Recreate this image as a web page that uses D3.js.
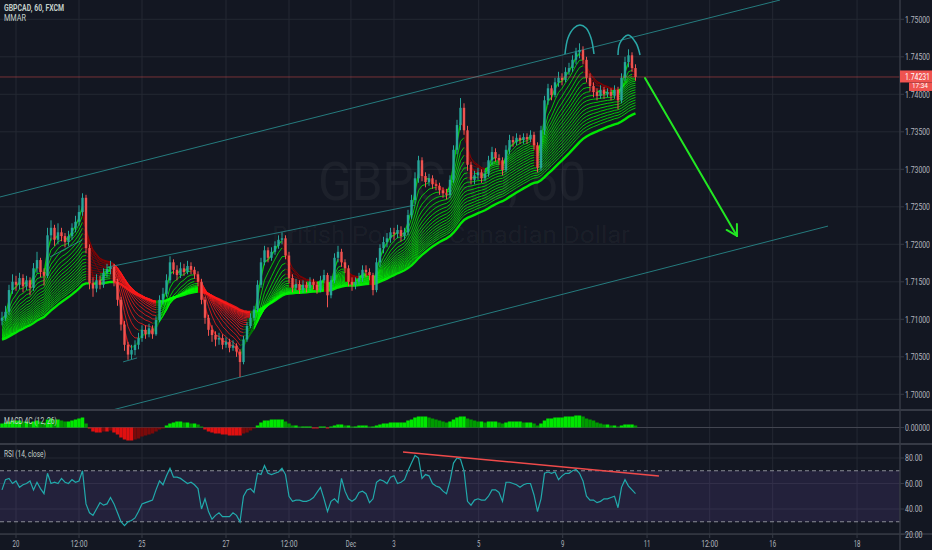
<!DOCTYPE html>
<html><head><meta charset="utf-8">
<script src="https://cdn.jsdelivr.net/npm/d3@7"></script>
<style>body{margin:0;background:#131722;}svg{display:block;font-family:Roboto,"Liberation Sans",sans-serif;}</style>
</head><body><svg id="c" width="932" height="550"></svg>
<script>
// ---------- DATA ----------
const symbolTitle = "GBPCAD, 60, FXCM";
const indicatorTitle = "MMAR";
const macdTitle = "MACD 4C (12, 26)";
const rsiTitle = "RSI (14, close)";
const watermark1 = "GBPCAD, 60";
const watermark2 = "British Pound / Canadian Dollar";
const countdown = "17:34";

// bars before the visible window (only used to warm up the ribbon)
const historyCloses = [1.7052,1.7048,1.7055,1.7060,1.7057,1.7063,1.7068,1.7062,1.7058,1.7065,1.7070,1.7074,1.7069,1.7072,1.7078,1.7082,1.7076,1.7080,1.7085,1.7079,1.7083,1.7088,1.7092,1.7086,1.7090,1.7095,1.7091,1.7094,1.7100,1.7098];

const closes = [1.7102,1.7110,1.7139,1.7150,1.7146,1.7155,1.7144,1.7152,1.7142,1.7168,
1.7179,1.7163,1.7158,1.7212,1.7222,1.7206,1.7216,1.7211,1.7203,1.7211,
1.7222,1.7230,1.7243,1.7262,1.7195,1.7148,1.7141,1.7152,1.7146,1.7162,
1.7167,1.7170,1.7150,1.7126,1.7093,1.7066,1.7053,1.7059,1.7066,1.7075,
1.7086,1.7080,1.7088,1.7080,1.7099,1.7126,1.7134,1.7152,1.7176,1.7166,
1.7159,1.7168,1.7163,1.7171,1.7166,1.7160,1.7150,1.7126,1.7102,1.7086,
1.7079,1.7073,1.7075,1.7066,1.7070,1.7062,1.7065,1.7057,1.7043,1.7073,
1.7091,1.7102,1.7113,1.7146,1.7176,1.7192,1.7182,1.7190,1.7198,1.7206,
1.7208,1.7185,1.7155,1.7142,1.7147,1.7139,1.7146,1.7142,1.7150,1.7146,
1.7139,1.7152,1.7159,1.7132,1.7152,1.7182,1.7190,1.7176,1.7168,1.7150,
1.7146,1.7150,1.7155,1.7166,1.7163,1.7159,1.7139,1.7176,1.7195,1.7203,
1.7208,1.7216,1.7214,1.7219,1.7211,1.7216,1.7239,1.7259,1.7288,1.7312,
1.7291,1.7283,1.7288,1.7280,1.7278,1.7272,1.7268,1.7266,1.7286,1.7326,
1.7359,1.7382,1.7352,1.7306,1.7286,1.7292,1.7296,1.7288,1.7294,1.7312,
1.7323,1.7315,1.7312,1.7299,1.7326,1.7339,1.7336,1.7342,1.7339,1.7343,
1.7340,1.7346,1.7332,1.7302,1.7352,1.7392,1.7408,1.7399,1.7416,1.7422,
1.7419,1.7430,1.7435,1.7446,1.7456,1.7459,1.7446,1.7422,1.7411,1.7403,
1.7398,1.7406,1.7400,1.7403,1.7398,1.7406,1.7392,1.7422,1.7443,1.7452,
1.7435,1.74231];

const highs = [1.7110,1.7118,1.7146,1.7160,1.7158,1.7162,1.7160,1.7158,1.7156,1.7175,
1.7190,1.7182,1.7168,1.7222,1.7232,1.7226,1.7228,1.7222,1.7215,1.7218,
1.7228,1.7238,1.7252,1.7268,1.7266,1.7200,1.7156,1.7160,1.7158,1.7168,
1.7174,1.7178,1.7174,1.7154,1.7130,1.7098,1.7070,1.7066,1.7072,1.7082,
1.7092,1.7092,1.7094,1.7092,1.7104,1.7132,1.7142,1.7160,1.7184,1.7180,
1.7172,1.7176,1.7174,1.7178,1.7176,1.7170,1.7164,1.7154,1.7130,1.7106,
1.7092,1.7084,1.7082,1.7080,1.7076,1.7074,1.7072,1.7068,1.7060,1.7078,
1.7096,1.7108,1.7118,1.7152,1.7182,1.7198,1.7196,1.7196,1.7204,1.7212,
1.7216,1.7212,1.7190,1.7160,1.7154,1.7152,1.7152,1.7150,1.7156,1.7154,
1.7150,1.7158,1.7166,1.7162,1.7158,1.7188,1.7198,1.7194,1.7180,1.7172,
1.7156,1.7156,1.7162,1.7172,1.7172,1.7168,1.7162,1.7182,1.7200,1.7210,
1.7215,1.7222,1.7222,1.7226,1.7224,1.7222,1.7246,1.7266,1.7296,1.7318,
1.7316,1.7296,1.7294,1.7292,1.7286,1.7282,1.7276,1.7274,1.7292,1.7332,
1.7366,1.7395,1.7388,1.7358,1.7310,1.7298,1.7302,1.7300,1.7300,1.7318,
1.7330,1.7328,1.7320,1.7316,1.7332,1.7346,1.7344,1.7348,1.7346,1.7348,
1.7348,1.7352,1.7350,1.7336,1.7358,1.7398,1.7414,1.7412,1.7422,1.7430,
1.7428,1.7436,1.7442,1.7452,1.7462,1.7468,1.7464,1.7450,1.7428,1.7416,
1.7408,1.7412,1.7410,1.7408,1.7408,1.7412,1.7410,1.7428,1.7450,1.7460,
1.7456,1.7440];

const lows = [1.7092,1.7098,1.7106,1.7134,1.7138,1.7140,1.7136,1.7139,1.7132,1.7138,
1.7162,1.7156,1.7145,1.7155,1.7205,1.7198,1.7200,1.7204,1.7196,1.7198,
1.7206,1.7216,1.7225,1.7238,1.7188,1.7140,1.7130,1.7136,1.7140,1.7142,
1.7156,1.7160,1.7144,1.7118,1.7085,1.7058,1.7046,1.7047,1.7052,1.7060,
1.7070,1.7074,1.7076,1.7074,1.7078,1.7096,1.7120,1.7130,1.7148,1.7160,
1.7152,1.7155,1.7158,1.7160,1.7160,1.7154,1.7144,1.7120,1.7094,1.7078,
1.7070,1.7064,1.7066,1.7060,1.7062,1.7056,1.7058,1.7050,1.7023,1.7040,
1.7070,1.7088,1.7098,1.7110,1.7142,1.7172,1.7176,1.7178,1.7186,1.7194,
1.7200,1.7180,1.7148,1.7136,1.7138,1.7134,1.7135,1.7136,1.7138,1.7140,
1.7134,1.7136,1.7148,1.7116,1.7128,1.7148,1.7176,1.7170,1.7162,1.7144,
1.7138,1.7140,1.7146,1.7150,1.7156,1.7152,1.7132,1.7136,1.7170,1.7188,
1.7196,1.7202,1.7206,1.7208,1.7204,1.7206,1.7212,1.7234,1.7254,1.7282,
1.7284,1.7276,1.7278,1.7274,1.7272,1.7266,1.7262,1.7260,1.7262,1.7282,
1.7320,1.7352,1.7346,1.7298,1.7280,1.7280,1.7286,1.7282,1.7284,1.7290,
1.7306,1.7310,1.7306,1.7292,1.7296,1.7320,1.7330,1.7332,1.7334,1.7334,
1.7334,1.7336,1.7326,1.7296,1.7298,1.7346,1.7386,1.7392,1.7396,1.7410,
1.7412,1.7416,1.7426,1.7430,1.7440,1.7448,1.7440,1.7416,1.7404,1.7396,
1.7392,1.7394,1.7394,1.7396,1.7392,1.7394,1.7380,1.7388,1.7418,1.7436,
1.7430,1.7418];

// MACD 4C histogram values
const macdValues = [0.0004,0.0005,0.0006,0.0007,0.0007,0.0007,0.0006,0.0006,0.0005,0.0006,
0.0007,0.0006,0.0005,0.0008,0.0009,0.0008,0.0008,0.0007,0.0006,0.0006,
0.0007,0.0008,0.0009,0.0010,0.0004,-0.0001,-0.0004,-0.0005,-0.0005,-0.0004,
-0.0004,-0.0003,-0.0005,-0.0007,-0.0010,-0.0012,-0.0013,-0.0013,-0.0012,-0.0011,
-0.0009,-0.0008,-0.0007,-0.0006,-0.0004,-0.0002,-0.0001,0.0002,0.0004,0.0005,
0.0006,0.0006,0.0005,0.0005,0.0004,0.0004,0.0003,0.0001,-0.0002,-0.0004,
-0.0005,-0.0006,-0.0006,-0.0007,-0.0007,-0.0008,-0.0008,-0.0008,-0.0008,-0.0006,
-0.0005,-0.0003,-0.0001,0.0002,0.0005,0.0007,0.0007,0.0008,0.0008,0.0008,
0.0008,0.0006,0.0004,0.0002,0.0002,0.0001,0.0001,0.0001,0.0001,-0.0001,
-0.0001,0.0001,0.0001,-0.0001,0.0001,0.0002,0.0003,0.0003,0.0002,0.0002,
0.0001,0.0001,0.0002,0.0002,0.0002,0.0001,0.0001,0.0002,0.0003,0.0004,
0.0004,0.0005,0.0005,0.0005,0.0005,0.0005,0.0007,0.0008,0.0010,0.0011,
0.0011,0.0011,0.0010,0.0009,0.0008,0.0007,0.0006,0.0005,0.0006,0.0008,
0.0010,0.0011,0.0011,0.0009,0.0008,0.0007,0.0006,0.0006,0.0005,0.0006,
0.0006,0.0006,0.0005,0.0004,0.0005,0.0006,0.0006,0.0006,0.0006,0.0005,
0.0005,0.0005,0.0004,0.0002,0.0004,0.0007,0.0009,0.0009,0.0010,0.0010,
0.0010,0.0011,0.0011,0.0011,0.0012,0.0012,0.0011,0.0009,0.0008,0.0007,
0.0005,0.0004,0.0003,0.0003,0.0002,0.0002,0.0001,0.0002,0.0003,0.0003,
0.0003,0.0002];

const rsiValues = [55,63,64,60,62,57,59,60,62,55,
61,56,52,68,60,61,60,64,61,60,
63,61,62,70,44,37,35,40,45,43,
44,49,44,37,30,27,30,31,33,38,
44,45,46,47,55,62,59,66,72,65,
65,64,62,60,61,59,56,40,48,38,
32,35,37,34,34,34,37,35,30,50,
55,56,53,68,67,74,68,67,68,69,
72,67,50,46,47,47,46,46,47,49,
53,57,48,38,46,48,45,64,54,48,
46,48,53,54,52,45,48,61,63,62,
60,65,66,60,61,63,70,76,82,80,
64,67,66,60,58,57,54,52,62,76,
80,79,70,46,43,47,48,47,47,50,
55,55,53,46,61,61,60,59,57,59,
60,60,51,38,48,68,69,68,69,63,
66,68,68,70,71,68,62,50,47,47,
45,46,48,48,49,50,41,57,63,58,
55,52];

const priceTicks = [1.70,1.705,1.71,1.715,1.72,1.725,1.73,1.735,1.74,1.745,1.75];
const rsiTicks = [20,40,60,80];
const rsiBand = [30,70];
const timeTickIndex = [4,22,40,64,82,99.7,112,136.2,160.2,184.3,202.2,220.2,244.3];
const timeTickLabels = ["20","12:00","25","27","12:00","Dec","3","5","9","11","12:00","16","18"];

const ribbonPeriods = [5,10,15,20,25,30,35,40,45,50,55,60,65,70,75,80,85,90];
const refPeriod = 100;
const hoursPerBar = 2;

// drawings, anchored as [bar index, price]
const channelLines = [
  [[-0.57,1.72631],[222.3,1.75257]],
  [[30.3,1.71697],[118,1.72523]],
  [[23.7,1.69697],[236,1.72243]],
  [[34.6,1.70432],[38.6,1.70485]],
  [[13.7,1.71831],[22.9,1.72057]]
];
const arcs = [
  [[160.86,1.74537],[161.71,1.74751],[163.43,1.74884],[165.14,1.74924],[166.86,1.74884],[168.29,1.74751],[169.14,1.74537]],
  [[176.0,1.74524],[176.57,1.74684],[178.86,1.74791],[181.14,1.74684],[182.29,1.74524]]
];
const arrowLine = [[183.71,1.74217],[210.0,1.72111]];
const rsiTrend = [[114.57,84.7],[187.7,65.9]];

// ---------- SCALES / LAYOUT ----------
const W = 932, H = 550, plotR = 900;
const mainTop = 0, mainBot = 410, macdTop = 410, macdBot = 444, rsiTop = 444, rsiBot = 534;
const x = d3.scaleLinear().domain([0, closes.length - 1]).range([2, 635.5]);
const yP = d3.scaleLinear().domain([1.70, 1.75]).range([394.3, 19.3]);
const yR = d3.scaleLinear().domain([20, 80]).range([534.5, 458]);
const yM = d3.scaleLinear().domain([-0.0015, 0.0015]).range([442.5, 412.5]);

const svg = d3.select("#c");
svg.append("rect").attr("width", W).attr("height", H).attr("fill", "#131722");
const defs = svg.append("defs");
function clip(id, y0, y1){ defs.append("clipPath").attr("id", id).append("rect").attr("x",0).attr("y",y0).attr("width",plotR).attr("height",y1-y0); }
clip("cMain", mainTop, mainBot); clip("cMacd", macdTop, macdBot); clip("cRsi", rsiTop, rsiBot);

// text squeezed horizontally to a target width (narrow UI font look)
function sText(g, xp, yp, str, size, targetW, anchor){
  const t = g.append("text").attr("font-size", size).attr("text-anchor", anchor || "start").text(str);
  const w = t.node().getComputedTextLength() || targetW;
  t.attr("transform", `translate(${xp},${yp}) scale(${targetW / w},1)`);
  return t;
}

const gridC = "#242833";
const grid = svg.append("g");
timeTickIndex.forEach(t => {
  grid.append("line").attr("x1", x(t)).attr("x2", x(t)).attr("y1", 0).attr("y2", rsiBot).attr("stroke", gridC);
});
priceTicks.forEach(p => grid.append("line").attr("x1",0).attr("x2",plotR).attr("y1",yP(p)).attr("y2",yP(p)).attr("stroke",gridC));
rsiTicks.forEach(v => grid.append("line").attr("x1",0).attr("x2",plotR).attr("y1",yR(v)).attr("y2",yR(v)).attr("stroke",gridC));

// watermark
const wm = svg.append("g").attr("fill","rgba(255,255,255,0.045)");
sText(wm, 452, 200, watermark1, 54, 268, "middle");
sText(wm, 451, 243, watermark2, 24, 358, "middle");

// ---------- RIBBON ----------
const all = historyCloses.concat(closes);
const H0 = historyCloses.length;
function ema(period){
  const a = 2 / (period / hoursPerBar + 1);
  let v = all[0]; const out = [];
  all.forEach(c => { v = a * c + (1 - a) * v; out.push(v); });
  return out;
}
const ref = ema(refPeriod);
const ma05 = ema(5);
const LIME = "#00ff00", MAROON = "#8b0000", RED = "#ff1a1a", GREEN = "#008a00";
function maColor(m, i){
  const d = m[i] - m[i-1], above = ma05[i] > ref[i];
  if (d >= 0 && above) return LIME;
  if (d < 0 && above) return MAROON;
  if (d <= 0 && !above) return RED;
  return GREEN;
}
const gMain = svg.append("g").attr("clip-path","url(#cMain)");
const gRib = gMain.append("g");
function drawRibbon(m, width, op){
  let run = null;
  const runs = [];
  for (let k = H0; k < all.length; k++){
    const c = maColor(m, k);
    const pt = [x(k - H0), yP(m[k])];
    if (!run || run.c !== c){
      const prev = k > H0 ? [x(k - 1 - H0), yP(m[k-1])] : null;
      run = {c, pts: prev ? [prev, pt] : [pt]};
      runs.push(run);
    } else run.pts.push(pt);
  }
  runs.forEach(r => gRib.append("path").attr("d", d3.line()(r.pts)).attr("fill","none")
    .attr("stroke", r.c).attr("stroke-width", width).attr("stroke-opacity", op));
}
ribbonPeriods.slice().reverse().forEach(p => drawRibbon(ema(p), p === 5 ? 1.4 : 1, 0.75));
drawRibbon(ref, 2.4, 0.9);

// channel / drawings
const teal = "#2b9c9c";
channelLines.forEach(l => gMain.append("line")
  .attr("x1", x(l[0][0])).attr("y1", yP(l[0][1])).attr("x2", x(l[1][0])).attr("y2", yP(l[1][1]))
  .attr("stroke", teal).attr("stroke-width", 1).attr("stroke-opacity", 0.75));

// candles
const UP = "#26a69a", DN = "#ef5350";
const gC = gMain.append("g");
closes.forEach((c, i) => {
  const o = i === 0 ? historyCloses[H0-1] : closes[i-1];
  const col = c >= o ? UP : DN;
  const cx = x(i);
  gC.append("line").attr("x1",cx).attr("x2",cx).attr("y1",yP(highs[i])).attr("y2",yP(lows[i])).attr("stroke",col).attr("stroke-width",1);
  const y1 = yP(Math.max(o,c)), y2 = yP(Math.min(o,c));
  gC.append("rect").attr("x", cx-1.2).attr("y", y1).attr("width", 2.4).attr("height", Math.max(1, y2-y1)).attr("fill", col);
});

// last price line
const last = closes[closes.length-1];
gMain.append("line").attr("x1",0).attr("x2",plotR).attr("y1",yP(last)).attr("y2",yP(last))
  .attr("stroke","#ef5350").attr("stroke-opacity",0.45).attr("stroke-width",1);

// arcs
arcs.forEach(a => gMain.append("path").attr("d", d3.line().x(d=>x(d[0])).y(d=>yP(d[1])).curve(d3.curveCatmullRom)(a))
  .attr("fill","none").attr("stroke","#2aa8a8").attr("stroke-width",1.5));

// arrow
{
  const x1 = x(arrowLine[0][0]), y1 = yP(arrowLine[0][1]), x2 = x(arrowLine[1][0]), y2 = yP(arrowLine[1][1]);
  const ang = Math.atan2(y2-y1, x2-x1) + Math.PI;
  const g = gMain.append("g").attr("stroke","#22e822").attr("stroke-width",2).attr("stroke-linecap","round");
  g.append("line").attr("x1",x1).attr("y1",y1).attr("x2",x2).attr("y2",y2);
  [-0.52, 0.52].forEach(da => g.append("line").attr("x1",x2).attr("y1",y2)
    .attr("x2", x2 + 12*Math.cos(ang+da)).attr("y2", y2 + 12*Math.sin(ang+da)));
}

// ---------- MACD 4C ----------
const gM = svg.append("g").attr("clip-path","url(#cMacd)");
gM.append("line").attr("x1",0).attr("x2",plotR).attr("y1",yM(0)).attr("y2",yM(0)).attr("stroke","#434651");
macdValues.forEach((v, i) => {
  const pv = i === 0 ? v : macdValues[i-1];
  const col = v > 0 ? (v >= pv ? "#00e600" : "#009a00") : (v <= pv ? "#e01010" : "#7a0a0a");
  gM.append("rect").attr("x", x(i) - 1.75).attr("width", 3.5)
    .attr("y", Math.min(yM(v), yM(0))).attr("height", Math.abs(yM(v) - yM(0))).attr("fill", col);
});

// ---------- RSI ----------
const gR = svg.append("g").attr("clip-path","url(#cRsi)");
gR.append("rect").attr("x",0).attr("width",plotR).attr("y",yR(rsiBand[1])).attr("height",yR(rsiBand[0])-yR(rsiBand[1]))
  .attr("fill","rgba(126,87,194,0.16)");
rsiBand.forEach(v => gR.append("line").attr("x1",0).attr("x2",plotR).attr("y1",yR(v)).attr("y2",yR(v))
  .attr("stroke","#8a8d96").attr("stroke-dasharray","4,3"));
gR.append("path").attr("d", d3.line().x((d,i)=>x(i)).y(d=>yR(d))(rsiValues))
  .attr("fill","none").attr("stroke","#21a9ab").attr("stroke-width",1.2);
gR.append("line").attr("x1",x(rsiTrend[0][0])).attr("y1",yR(rsiTrend[0][1])).attr("x2",x(rsiTrend[1][0])).attr("y2",yR(rsiTrend[1][1]))
  .attr("stroke","#ef4a4a").attr("stroke-width",1.5);

// ---------- FRAME / AXES ----------
const sep = "#363a45";
[macdTop, rsiTop].forEach(y => svg.append("line").attr("x1",0).attr("x2",W).attr("y1",y).attr("y2",y).attr("stroke",sep).attr("stroke-width",2));
svg.append("line").attr("x1",0).attr("x2",W).attr("y1",rsiBot).attr("y2",rsiBot).attr("stroke",sep).attr("stroke-width",1.5);
svg.append("line").attr("x1",plotR).attr("x2",plotR).attr("y1",0).attr("y2",H).attr("stroke",sep).attr("stroke-width",1.5);

const axC = "#b2b5be";
const axis = svg.append("g").attr("fill",axC);
priceTicks.forEach(p => {
  axis.append("line").attr("x1",plotR).attr("x2",plotR+4).attr("y1",yP(p)).attr("y2",yP(p)).attr("stroke",sep);
  sText(axis, plotR+5, yP(p)+3.2, d3.format(".5f")(p), 9, 25);
});
axis.append("line").attr("x1",plotR).attr("x2",plotR+4).attr("y1",yM(0)).attr("y2",yM(0)).attr("stroke",sep);
sText(axis, plotR+5, yM(0)+3.2, d3.format(".5f")(0), 9, 25);
rsiTicks.forEach(v => {
  axis.append("line").attr("x1",plotR).attr("x2",plotR+4).attr("y1",yR(v)).attr("y2",yR(v)).attr("stroke",sep);
  sText(axis, plotR+5, yR(v)+3.2, d3.format(".2f")(v), 9, 17.5);
});
timeTickIndex.forEach((t,i) => {
  axis.append("line").attr("x1",x(t)).attr("x2",x(t)).attr("y1",rsiBot).attr("y2",rsiBot+4).attr("stroke",sep);
  sText(axis, x(t), 546.5, timeTickLabels[i], 9.5, timeTickLabels[i].length*3.4, "middle");
});
// last price labels
svg.append("rect").attr("x",plotR).attr("y",yP(last)-6.5).attr("width",W-plotR).attr("height",12).attr("fill","#ef5350");
sText(svg.append("g").attr("fill","#fff"), plotR+5, yP(last)+3.2, d3.format(".5f")(last), 9, 25);
svg.append("rect").attr("x",909).attr("y",yP(last)+5.5).attr("width",W-909).attr("height",8.5).attr("fill","#ef5350");
sText(svg.append("g").attr("fill","#fff"), 912, yP(last)+11.5, countdown, 7.5, 16);

// titles
const tt = svg.append("g").attr("fill","#c3cfca");
sText(tt, 4, 10.5, symbolTitle, 9.5, 59).attr("font-weight","bold");
sText(tt, 4, 21, indicatorTitle, 9.5, 22);
sText(tt, 4, 423.5, macdTitle, 9.5, 53);
sText(tt, 4, 456.5, rsiTitle, 9.5, 42);
</script></body></html>
